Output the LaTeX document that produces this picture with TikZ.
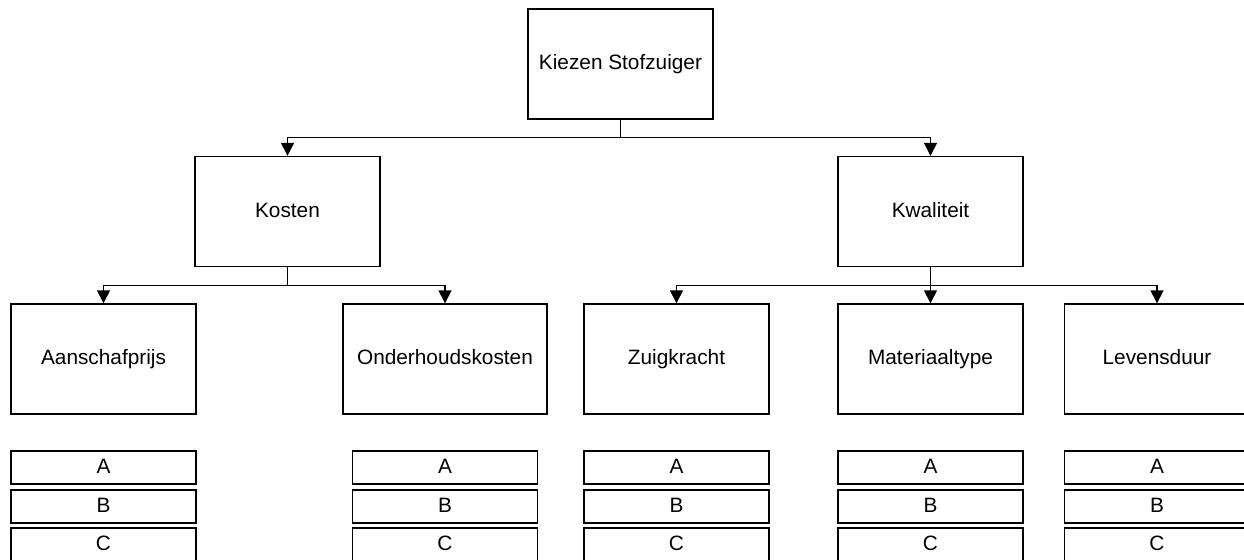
\documentclass[tikz,border=0pt]{standalone}
\usepackage{fontspec}
\setmainfont{Liberation Sans}
\usetikzlibrary{arrows.meta}

\begin{document}
\begin{tikzpicture}[
  x=0.5pt, y=-0.5pt,
  every node/.style={font=\fontsize{10.4}{12}\selectfont, text height=7.5pt, text depth=2pt},
  box/.style={draw, line width=0.7pt, minimum width=92.5pt, minimum height=55pt, inner sep=0pt},
  optbox/.style={draw, line width=0.7pt, minimum width=92.5pt, minimum height=16.5pt, inner sep=0pt},
  arr/.style={line width=0.7pt, -{Triangle[length=6.5pt, width=6.5pt]}}
]
\clip (0,0) rectangle (1244,559);
\fill[white] (0,0) rectangle (1244,559);

% top level
\node[box] (top) at (620.5,64) {Kiezen Stofzuiger};

% criteria
\node[box] (kosten) at (287.5,211.5) {Kosten};
\node[box] (kwaliteit) at (930.5,211.5) {Kwaliteit};

% sub criteria
\node[box] (aanschaf) at (103.5,359) {Aanschafprijs};
\node[box, minimum width=102pt] (onderhoud) at (445,359) {Onderhoudskosten};
\node[box] (zuig) at (676.5,359) {Zuigkracht};
\node[box] (materiaal) at (930.5,359) {Materiaaltype};
\node[box] (leven) at (1157,359) {Levensduur};

% alternatives
\foreach \n/\x in {aanschaf/103.5, onderhoud/445, zuig/676.5, materiaal/930.5, leven/1157}
  \foreach \l/\y in {A/467.5, B/506.5, C/544.5}
    \node[optbox] (\n-\l) at (\x,\y) {\l};

\draw[arr] (top.south) -- ++(0,18) -| (kosten.north);
\draw[arr] (top.south) -- ++(0,18) -| (kwaliteit.north);

\draw[arr] (kosten.south) -- ++(0,18) -| (aanschaf.north);
\draw[arr] (kosten.south) -- ++(0,18) -| (onderhoud.north);

\draw[arr] (kwaliteit.south) -- ++(0,18) -| (zuig.north);
\draw[arr] (kwaliteit.south) -- (materiaal.north);
\draw[arr] (kwaliteit.south) -- ++(0,18) -| (leven.north);
\end{tikzpicture}
\end{document}
